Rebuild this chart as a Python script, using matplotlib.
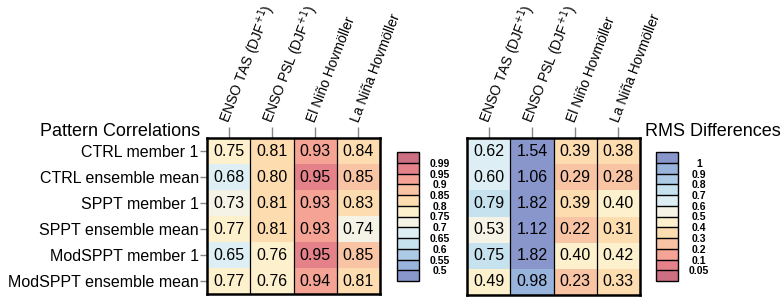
import numpy as np
import matplotlib
matplotlib.use("Agg")
import matplotlib.pyplot as plt
from matplotlib.colors import ListedColormap, BoundaryNorm

plt.rcParams['font.family'] = ['Liberation Sans', 'DejaVu Sans']

# data
rows = ["CTRL member 1", "CTRL ensemble mean", "SPPT member 1",
        "SPPT ensemble mean", "ModSPPT member 1", "ModSPPT ensemble mean"]
cols = ["ENSO TAS (DJF$^{+1}$)", "ENSO PSL (DJF$^{+1}$)",
        "El Niño Hovmöller", "La Niña Hovmöller"]
corr = np.array([[0.75, 0.81, 0.93, 0.84],
                 [0.68, 0.80, 0.95, 0.85],
                 [0.73, 0.81, 0.93, 0.83],
                 [0.77, 0.81, 0.93, 0.74],
                 [0.65, 0.76, 0.95, 0.85],
                 [0.77, 0.76, 0.94, 0.81]])
rms = np.array([[0.62, 1.54, 0.39, 0.38],
                [0.60, 1.06, 0.29, 0.28],
                [0.79, 1.82, 0.39, 0.40],
                [0.53, 1.12, 0.22, 0.31],
                [0.75, 1.82, 0.40, 0.42],
                [0.49, 0.98, 0.23, 0.33]])
corr_levels = [0.5, 0.55, 0.6, 0.65, 0.7, 0.75, 0.8, 0.85, 0.9, 0.95, 0.99]
rms_levels = [0.05, 0.1, 0.2, 0.3, 0.4, 0.5, 0.6, 0.7, 0.8, 0.9, 1.0]
rms_ticklabels = ["0.05", "0.1", "0.2", "0.3", "0.4", "0.5", "0.6", "0.7",
                  "0.8", "0.9", "1"]

# colours from blue (low) to red (high)
palette = ["#8896cc", "#98b3dc", "#adcbe6", "#c6e2ef", "#ddeff4", "#f4f3e6",
           "#fdf0cc", "#fddcb0", "#f9c4a4", "#f4a394", "#e58289", "#cc6f82"]

W, H = 782, 297
fig = plt.figure(figsize=(W / 100, H / 100), dpi=100)


def box(x0, y0, x1, y1):
    return [x0 / W, 1 - y1 / H, (x1 - x0) / W, (y1 - y0) / H]


def heat(ax, data, cmap, norm, show_rows):
    ax.pcolormesh(np.arange(5), np.arange(7), data, cmap=cmap, norm=norm)
    ax.set_xlim(0, 4)
    ax.set_ylim(6, 0)
    for x in range(1, 4):
        ax.axvline(x, color="black", lw=0.9)
    for i in range(data.shape[0]):
        for j in range(data.shape[1]):
            ax.text(j + 0.5, i + 0.5, "%.2f" % data[i, j], ha="center",
                    va="center", fontsize=11.5)
    for s in ax.spines.values():
        s.set_linewidth(1.8)
    ax.xaxis.tick_top()
    ax.set_xticks(np.arange(4) + 0.5)
    ax.set_xticklabels([])
    ax.tick_params(axis="x", length=8, color="#888888", width=1)
    for j, c in enumerate(cols):
        ax.text(j + 0.42, -0.62, c, rotation=69, rotation_mode="anchor",
                ha="left", va="center", fontsize=10)
    ax.set_yticks(np.arange(6) + 0.5)
    if show_rows:
        ax.set_yticklabels(rows, fontsize=11.5)
        ax.tick_params(axis="y", length=5, color="#888888", width=1, pad=1)
    else:
        ax.set_yticks([])


# left panel
cmap_c = ListedColormap(palette[1:-1])
cmap_c.set_under(palette[0])
cmap_c.set_over(palette[-1])
norm_c = BoundaryNorm(corr_levels, cmap_c.N)
ax1 = fig.add_axes(box(207, 138, 380, 294))
heat(ax1, corr, cmap_c, norm_c, True)

# right panel
pal_r = palette[::-1]
cmap_r = ListedColormap(pal_r[1:-1])
cmap_r.set_under(pal_r[0])
cmap_r.set_over(pal_r[-1])
norm_r = BoundaryNorm(rms_levels, cmap_r.N)
ax2 = fig.add_axes(box(467, 138, 640, 295))
heat(ax2, rms, cmap_r, norm_r, False)

fig.text(200 / W, 1 - 136 / H, "Pattern Correlations", ha="right",
         va="baseline", fontsize=13)
fig.text(645 / W, 1 - 136 / H, "RMS Differences", ha="left",
         va="baseline", fontsize=13)

# colour bars
for cmap, norm, levels, labels, x0 in [
        (cmap_c, norm_c, corr_levels, [str(v) for v in corr_levels], 397),
        (cmap_r, norm_r, rms_levels, rms_ticklabels, 656)]:
    cax = fig.add_axes(box(x0, 152, x0 + 22, 281))
    cb = fig.colorbar(matplotlib.cm.ScalarMappable(norm=norm, cmap=cmap),
                      cax=cax, extend="both", extendrect=True,
                      extendfrac=0.1, spacing="uniform", drawedges=True,
                      ticks=levels)
    cb.set_ticklabels(labels)
    cb.outline.set_linewidth(1.0)
    cb.dividers.set_linewidth(1.0)
    cax.tick_params(length=0, labelsize=7.5, pad=15)
    for t in cax.get_yticklabels():
        t.set_ha("center")
        t.set_fontweight("semibold")

fig.savefig("out.png", dpi=100)
